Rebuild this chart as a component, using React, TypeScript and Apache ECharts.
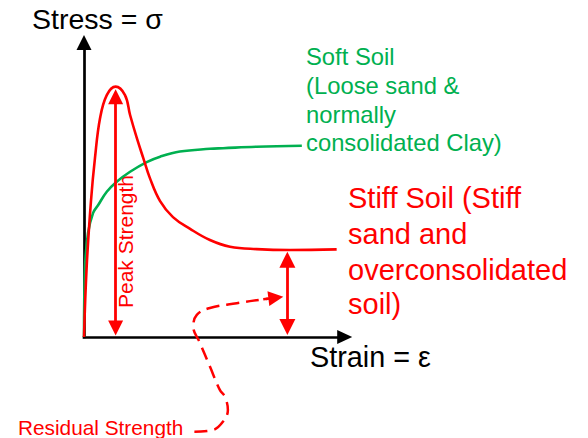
import React, { useEffect, useRef } from "react";
import * as echarts from "echarts";

// Stress-strain curves (arbitrary units: strain 0..97, stress 0..97)
const stiffSoil: [number, number][] = [
  [0, 0], [1.0, 23.3], [2.6, 45.0], [4.1, 59.3], [6.0, 72.5], [8.5, 80.1],
  [11.8, 82.9], [15.3, 80.1], [17.2, 73.5], [19.7, 65.9], [22.1, 59.3],
  [24.6, 52.6], [28.4, 45.0], [33.2, 39.7], [39.6, 35.8], [47.0, 32.1],
  [54.5, 29.9], [64.4, 29.1], [76.9, 28.8], [94.3, 29.0],
];
const softSoil: [number, number][] = [
  [0, 0], [0.4, 23.2], [1.5, 34.4], [3.4, 41.1], [5.3, 43.7], [8.5, 48.1],
  [12.2, 51.4], [17.2, 54.7], [23.4, 57.9], [28.4, 59.7], [35.8, 61.4],
  [47.0, 62.3], [51.9, 62.5], [64.4, 63.0], [81.3, 63.3],
];
const residualPointer: [number, number][] = [
  [41.2, -31.4], [48.1, -30.8], [51.9, -28.0], [53.7, -24.2], [52.6, -19.8],
  [50.7, -17.5], [47.0, -9.8], [43.3, -2.0], [40.8, 3.4], [42.1, 7.3],
  [47.0, 9.6], [57.0, 11.2], [66.9, 12.5], [68.7, 12.7],
];
const pointerHead: [number, number][] = [[66.9, 12.5], [71.6, 13.0]];
const peakArrow: [number, number][] = [[11.8, 79.5], [11.8, 3.0]];
const residualArrow: [number, number][] = [[75.9, 25.6], [75.9, 3.3]];

const softLabel = ["Soft Soil", "(Loose sand &", "normally", "consolidated Clay)"];
const stiffLabel = ["Stiff Soil (Stiff", "sand and", "overconsolidated", "soil)"];

const FONT = '"Liberation Sans", Arial, Helvetica, sans-serif';
const RED = "#ff0000";
const GREEN = "#00b050";

function txt(text: string, x: number, y: number, size: number, color: string, rotation = 0, align = "left") {
  return {
    type: "text",
    x,
    y,
    rotation,
    silent: true,
    style: {
      text,
      fill: color,
      fontSize: size,
      fontFamily: FONT,
      align,
      verticalAlign: "middle",
      textAlign: align,
      textVerticalAlign: "middle",
    },
  };
}

export default function App() {
  const ref = useRef<HTMLDivElement>(null);
  useEffect(() => {
    if (!ref.current) return;
    const chart = echarts.init(ref.current, undefined, { renderer: "svg" });
    const graphic: any[] = [
      txt("Stress = σ", 32, 18.7, 28.5, "#000"),
      txt("Strain = ε", 310, 356.7, 28.8, "#000"),
      txt("Residual Strength", 18, 427.2, 20.8, RED),
      txt("Peak Strength", 125.5, 241.5, 21, RED, Math.PI / 2, "center"),
    ];
    const softYs = [56.6, 85.6, 114.3, 142.3];
    softLabel.forEach((t, i) => graphic.push(txt(t, 306, softYs[i], 23.8, GREEN)));
    const stiffYs = [198.1, 233.8, 269.8, 303.8];
    stiffLabel.forEach((t, i) => graphic.push(txt(t, 348, stiffYs[i], 29, RED)));

    chart.setOption({
      animation: false,
      backgroundColor: "#fff",
      grid: { left: 84, top: 42.5, width: 260.7, height: 294.5, containLabel: false },
      xAxis: {
        type: "value",
        min: 0,
        max: 97.3,
        axisLine: {
          show: true,
          symbol: ["none", "triangle"],
          symbolSize: [14, 15],
          lineStyle: { color: "#000", width: 2.7, cap: "square" },
        },
        axisTick: { show: false },
        axisLabel: { show: false },
        splitLine: { show: false },
      },
      yAxis: {
        type: "value",
        min: 0,
        max: 97.5,
        axisLine: {
          show: true,
          symbol: ["none", "triangle"],
          symbolSize: [15, 15],
          lineStyle: { color: "#000", width: 2.7, cap: "square" },
        },
        axisTick: { show: false },
        axisLabel: { show: false },
        splitLine: { show: false },
      },
      series: [
        {
          type: "line",
          data: softSoil,
          smooth: 0.4,
          symbol: "none",
          lineStyle: { color: GREEN, width: 2.6 },
          z: 3,
        },
        {
          type: "line",
          data: stiffSoil,
          smooth: 0.4,
          symbol: "none",
          lineStyle: { color: RED, width: 2.6 },
          z: 4,
        },
        {
          type: "line",
          data: residualPointer,
          smooth: 0.4,
          clip: false,
          symbol: "none",
          lineStyle: { color: RED, width: 2.5, type: [13, 7] },
          z: 4,
        },
        {
          type: "lines",
          coordinateSystem: "cartesian2d",
          symbol: ["none", "triangle"],
          symbolSize: 15,
          lineStyle: { color: RED, width: 2.5, opacity: 1, curveness: 0 },
          data: [{ coords: pointerHead }],
          z: 5,
        },
        {
          type: "lines",
          coordinateSystem: "cartesian2d",
          symbol: ["triangle", "triangle"],
          symbolSize: 15,
          lineStyle: { color: RED, width: 2.8, opacity: 1, curveness: 0 },
          data: [{ coords: peakArrow }],
          z: 5,
        },
        {
          type: "lines",
          coordinateSystem: "cartesian2d",
          symbol: ["triangle", "triangle"],
          symbolSize: 16,
          lineStyle: { color: RED, width: 2.8, opacity: 1, curveness: 0 },
          data: [{ coords: residualArrow }],
          z: 5,
        },
      ],
      graphic,
    });
    return () => chart.dispose();
  }, []);
  return (
    <div
      ref={ref}
      style={{ position: "absolute", left: 0, top: 0, width: 588, height: 438, background: "#fff" }}
    />
  );
}
